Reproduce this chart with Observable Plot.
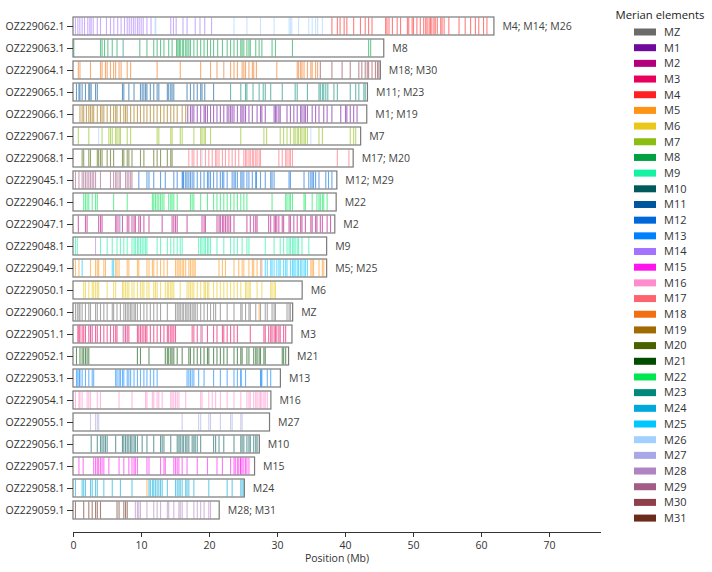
<!DOCTYPE html>
<html>
<head>
<meta charset="utf-8">
<script src="https://cdn.jsdelivr.net/npm/d3@7"></script>
<script src="https://cdn.jsdelivr.net/npm/@observablehq/plot@0.6"></script>
<style>
  body { margin: 0; background: #fff; font-family: "Open Sans", "Noto Sans", sans-serif; }
  #wrap { position: relative; width: 712px; height: 572px; }
  #chart { position: absolute; left: 0; top: 0; }
  #legend { position: absolute; left: 600px; top: 0; }
</style>
</head>
<body>
<div id="wrap"><div id="chart"></div><svg id="legend" width="112" height="572"></svg></div>
<script>
// Chromosomes, top to bottom, with their lengths (Mb) and the Merian elements they carry
const chromosomes = ["OZ229062.1","OZ229063.1","OZ229064.1","OZ229065.1","OZ229066.1","OZ229067.1","OZ229068.1","OZ229045.1","OZ229046.1","OZ229047.1","OZ229048.1","OZ229049.1","OZ229050.1","OZ229060.1","OZ229051.1","OZ229052.1","OZ229053.1","OZ229054.1","OZ229055.1","OZ229056.1","OZ229057.1","OZ229058.1","OZ229059.1"];
const lengthsMb = [61.9,45.7,45.2,43.3,43.2,42.3,41.2,38.8,38.7,38.5,37.3,37.3,33.7,32.3,32.2,31.7,30.5,29.1,28.9,27.4,26.7,25.2,21.5];
const elementLabels = ["M4; M14; M26","M8","M18; M30","M11; M23","M1; M19","M7","M17; M20","M12; M29","M22","M2","M9","M5; M25","M6","MZ","M3","M21","M13","M16","M27","M10","M15","M24","M28; M31"];

// Merian element palette
const merianElements = ["MZ","M1","M2","M3","M4","M5","M6","M7","M8","M9","M10","M11","M12","M13","M14","M15","M16","M17","M18","M19","M20","M21","M22","M23","M24","M25","M26","M27","M28","M29","M30","M31"];
const merianColours = ["#6b6b6b","#6e0a9c","#b3007a","#e8005c","#ff2121","#ff9414","#e9c81a","#8cbd12","#00a043","#14f2a2","#005a5c","#00569c","#0068d9","#0082ff","#a373ff","#ff14ee","#ff8ccc","#ff6370","#f27012","#a16a02","#4a6100","#004d00","#00e653","#00897a","#00a8db","#00c8ff","#a3d1ff","#a8a8e6","#b083c2","#a35c85","#8f3f4a","#6b2b1a"];

// BUSCO gene positions (Mb) on each chromosome, grouped by Merian element
const genesOZ229062 = {
  M14: [0.29,0.64,0.93,1.27,1.62,2.1,2.4,2.6,2.9,3.5,3.97,4.85,5.44,5.93,6.5,7.0,7.5,7.9,8.2,8.5,8.8,9.07,9.4,9.66,9.95,10.25,10.8,11.4,14.3,14.7,15.1,16.1,16.7,17.9,18.6,19.3,20.3],
  M26: [12.0,12.1,23.6,25.5,27.5,29.5,31.7,31.9,32.1,33.1,34.6,35.1,35.6,35.9,36.6],
  M4: [38.0,38.8,39.2,39.8,40.2,41.2,42.2,42.9,43.4,43.9,45.9,46.1,46.4,46.9,47.6,48.1,49.1,49.3,49.8,50.0,50.5,51.0,51.5,51.8,52.0,52.3,52.5,52.7,53.0,53.2,53.5,54.0,54.2,54.5,55.2,56.7,57.6,58.4,59.1,59.6,60.3,60.8]
};
const genesOZ229063 = {
  M8: [0.05,3.97,4.2,4.56,5.05,5.7,6.4,9.75,10.8,11.8,12.3,12.8,13.3,14.0,14.5,15.15,15.35,15.55,15.7,16.0,16.2,16.5,16.7,16.96,17.2,17.7,18.2,18.7,19.2,19.7,20.15,20.6,21.2,21.9,22.6,23.1,23.6,24.1,24.6,24.8,25.05,25.5,25.8,26.0,26.8,27.3,27.7,29.2,29.7,32.2,43.4,43.7],
  M23: [7.3]
};
const genesOZ229064 = {
  M18: [0.71,0.95,2.5,3.97,4.2,4.7,4.95,5.44,5.9,6.2,6.7,7.0,7.9,8.4,12.3,15.7,18.7,20.15,21.1,22.1,23.1,23.6,24.1,24.8,25.05,25.3,25.8,26.3,26.5,26.9,29.9,32.9,33.1,33.4,33.6,33.9,34.4,34.9,35.1,35.6,35.9],
  M30: [36.3,38.0,39.5,40.7,41.96,42.4,42.9,43.2,43.4,43.9,44.4,44.7,44.9]
};
const genesOZ229065 = {
  M11: [0.44,0.8,0.95,1.27,1.76,2.25,2.4,2.6,3.24,3.5,7.2,7.4,8.14,8.9,9.85,10.1,10.35,10.6,10.8,11.3,11.8,12.3,12.55,13.8,14.0,14.3,14.5,14.75,16.7,17.2,17.7,18.2,18.7,18.9,19.3,20.6],
  M23: [23.1,24.6,25.3,25.5,26.4,27.3,27.9,28.2,29.0,30.7,32.6,32.9,34.4,36.1,36.3,36.6,36.8,37.1,37.4,38.3,38.8,40.7,41.5,41.96,42.7,42.9]
};
const genesOZ229066 = {
  M19: [0.95,1.27,1.5,1.9,2.25,2.5,2.75,2.97,3.5,3.97,4.2,4.46,4.95,5.44,5.9,6.2,6.4,6.9,7.4,7.65,7.9,8.4,8.9,9.4,9.85,10.35,10.8,11.3,11.8,12.3,12.8,13.3,13.8,14.3,14.75,15.25,15.98,16.5],
  M1: [16.8,17.2,17.45,17.7,18.2,18.7,19.2,19.4,19.7,20.15,20.6,21.1,21.6,22.1,22.6,22.85,23.1,23.33,23.6,24.1,24.6,24.8,25.05,25.3,25.8,26.3,27.0,27.5,27.7,28.2,29.5,29.7,29.9,30.2,30.4,31.4,31.9,32.4,32.9,33.4,33.6,33.9,34.1,34.4,35.1,35.6,36.1,36.8,37.3,38.0,39.3,40.0,40.2,40.7,41.2,41.7]
};
const genesOZ229067 = {
  M7: [0.71,2.25,4.2,5.2,5.44,5.7,6.2,6.4,6.7,6.9,7.9,8.4,12.3,12.55,14.3,14.5,15.7,15.98,17.7,18.7,18.9,19.2,19.4,20.15,24.6,28.0,28.4,30.4,30.9,31.4,31.9,32.4,32.6,32.9,33.1,33.4,33.6,33.9,34.1,34.4,36.1,36.6,40.7,41.2,41.5],
  M26: [3.7,34.9]
};
const genesOZ229068 = {
  M20: [1.27,1.5,2.25,2.5,3.5,3.7,3.97,4.2,4.95,5.44,5.9,7.2,7.4,7.9,8.14,8.6,9.85,10.35,11.8,12.3,12.8,13.8,14.3,14.5],
  M17: [16.96,17.45,17.7,18.2,18.7,19.4,19.9,20.4,20.9,21.1,21.4,21.9,22.35,22.85,23.33,23.8,24.3,25.05,25.3,25.5,25.8,26.0,26.3,26.5,26.8,27.0,27.3,27.5,30.2,30.7,31.2,31.4,31.7,31.9,32.2,38.8,40.5],
  M26: [18.9]
};
const genesOZ229045 = {
  M29: [0.29,0.8,1.27,1.5,1.76,2.0,2.25,2.5,2.75,2.97,3.24,3.97,5.44,5.9,6.2,6.4,6.7,6.9,7.65,7.9,8.14,8.4,8.6],
  M12: [9.6,10.8,11.1,11.8,12.8,13.5,14.75,15.25,15.98,16.1,16.2,16.5,16.7,16.96,17.2,17.45,17.7,18.2,18.7,19.2,19.7,19.9,20.15,20.6,21.1,21.6,21.9,22.1,22.6,23.33,23.6,23.8,24.1,24.6,24.8,25.05,25.5,25.8,26.3,26.8,26.9,27.5,28.2,29.0,29.2,29.5,31.7,31.9,33.9,34.6,34.9,35.1,35.3,35.6,36.1,37.1,37.5,38.0]
};
const genesOZ229046 = {
  M22: [1.5,1.76,2.0,2.25,2.75,3.24,3.5,5.9,7.9,11.6,11.8,12.05,12.3,12.55,12.8,13.04,13.3,14.0,14.3,14.5,14.75,15.25,17.2,17.45,17.7,18.7,19.7,20.6,21.1,21.6,22.1,22.6,23.1,23.6,24.1,24.6,25.05,25.5,29.2,31.2,31.4,31.7,31.9,32.2,33.9,34.1,35.1,35.8,36.1,36.3,36.6,36.8,37.3]
};
const genesOZ229047 = {
  M2: [0.71,1.76,2.0,3.7,3.97,4.2,6.2,6.4,6.7,7.2,7.9,8.14,8.6,8.9,9.1,9.6,9.85,10.35,11.1,13.04,14.5,14.75,15.0,15.25,16.7,18.9,19.2,19.4,21.1,21.4,21.6,21.9,22.1,22.35,22.6,22.85,23.1,23.6,25.5,26.0,26.5,26.8,27.0,28.7,29.0,29.5,29.7,29.9,30.2,30.7,30.9,31.7,31.9,32.4,32.9,33.4,33.6,34.1,34.9,35.1,35.6,35.8,36.3,36.6,37.3,37.8],
  M26: [6.9]
};
const genesOZ229048 = {
  M9: [0.29,0.56,3.97,4.95,5.7,6.4,6.9,7.4,7.9,8.6,8.9,9.1,9.4,9.6,9.85,10.1,10.35,10.6,10.8,12.3,12.8,13.8,14.3,14.75,15.25,15.7,15.98,18.4,18.7,18.9,19.2,19.4,19.7,19.9,20.15,21.1,22.1,23.1,23.6,24.1,24.8,25.5,25.8,28.2,29.5,30.4,30.9,31.4,31.7,31.9,32.2,32.4,32.6,32.9,33.1,33.6,34.6],
  M28: [3.24]
};
const genesOZ229049 = {
  M5: [0.29,0.8,2.5,3.24,3.5,3.7,4.46,4.7,6.2,6.4,6.7,7.9,8.14,9.4,9.6,10.8,11.1,11.6,11.8,12.3,12.8,13.3,13.8,15.0,15.25,15.5,15.7,15.98,16.2,16.5,16.96,17.2,17.45,17.7,17.9,21.4,21.9,22.35,23.6,24.3,24.8,25.05,25.8,26.3,26.5,27.0,27.5,34.9,35.1,35.3,36.1,36.6,36.8],
  M25: [1.27,5.7,5.9,28.2,28.5,29.0,29.2,29.5,29.9,30.2,30.4,30.9,31.2,31.4,31.9,32.2,32.4,32.6,32.9,33.1,33.4,33.6,33.9,34.1,34.4],
  M28: [27.7]
};
const genesOZ229050 = {
  M6: [1.5,1.76,2.25,2.75,2.97,3.24,3.5,3.7,4.95,5.9,6.2,7.2,7.4,7.65,7.9,8.14,8.6,8.9,9.4,9.85,10.1,10.35,10.8,11.1,11.8,12.05,12.3,12.8,13.5,13.8,14.0,14.3,14.5,14.75,15.7,16.7,16.96,17.2,17.45,17.7,18.2,18.7,19.2,19.4,19.7,19.9,20.6,21.1,21.6,22.1,22.6,23.1,23.6,24.1,24.6,25.3,25.5,25.8,26.0,27.0,27.7,29.0,29.2,29.5,29.7]
};
const genesOZ229060 = {
  MZ: [0.29,0.56,0.8,0.95,1.27,1.76,2.25,2.5,3.24,3.5,3.97,4.46,4.95,5.7,5.9,6.4,6.9,7.4,7.65,7.9,8.14,8.4,8.6,8.9,9.1,9.4,9.85,10.35,10.8,11.3,11.8,12.3,12.8,13.8,15.0,15.25,15.5,15.7,15.98,16.2,16.5,16.7,16.96,17.2,17.45,17.7,17.9,18.2,18.7,19.2,19.7,20.15,20.6,20.9,21.6,22.6,23.6,24.6,24.8,25.3,25.8,26.0,26.8,27.5,28.2,28.5,29.2,29.5,29.7,31.4,31.7,31.9],
  M5: [27.3]
};
const genesOZ229051 = {
  M3: [0.64,0.8,0.95,1.27,1.5,1.76,2.25,2.75,3.24,3.5,3.97,4.46,4.95,5.44,5.9,6.2,6.4,7.4,7.65,7.9,8.14,9.4,9.6,9.85,10.1,10.35,10.6,10.8,11.3,11.8,12.3,12.8,13.3,13.8,14.0,14.3,14.5,14.75,15.0,17.45,17.7,18.2,18.9,19.7,20.6,21.1,21.9,22.1,22.6,23.1,23.6,24.1,26.0,28.0,28.2,28.7,29.0,29.2,29.5,29.7,29.9,30.2,30.4,30.9,31.2],
  M2: [2.5],
  M26: [7.2],
  M28: [18.7]
};
const genesOZ229052 = {
  M21: [0.44,0.95,1.27,1.5,1.76,2.0,2.25,9.4,9.85,11.1,13.5,13.8,14.0,14.3,14.5,14.75,15.25,15.98,16.96,17.2,17.7,18.2,18.7,19.2,19.7,19.9,20.6,21.1,21.6,22.1,22.6,23.6,24.1,24.6,24.8,25.5,25.8,26.5,26.8,27.0,27.3,27.5,28.0,28.2,30.7,30.9,31.2]
};
const genesOZ229053 = {
  M13: [0.44,0.64,0.85,0.95,1.27,1.76,2.25,2.75,2.97,6.2,6.4,6.7,6.9,7.2,7.4,7.9,8.14,8.4,8.9,9.4,9.85,10.35,10.8,11.3,11.8,12.3,16.7,16.96,17.2,17.45,17.7,18.4,19.2,20.6,21.6,22.6,23.6,24.1,24.6,24.65,25.3,27.5,27.6,27.7,28.5,29.0]
};
const genesOZ229054 = {
  M16: [0.29,0.8,0.95,1.27,2.0,2.25,2.5,3.5,3.97,6.7,8.6,10.6,10.8,11.6,11.8,12.3,12.55,13.04,14.3,14.5,14.75,15.0,15.25,15.5,16.5,18.7,18.9,19.9,20.4,20.9,21.6,22.6,23.6,24.6,25.5,25.8,26.0,26.5,26.8,27.0,27.3,27.5,27.7,28.0,28.2,28.5]
};
const genesOZ229055 = {
  M27: [2.5,3.24,3.5,3.7,15.98,18.4,18.7,19.9,20.15,21.6,23.1,23.33,24.6,24.8]
};
const genesOZ229056 = {
  M10: [2.6,3.5,3.97,4.2,4.46,4.7,4.95,6.2,7.2,7.4,7.65,7.9,8.14,8.4,8.6,8.9,9.1,9.4,10.1,10.8,11.8,12.8,13.04,13.3,14.3,15.25,15.5,15.7,15.98,16.2,16.5,16.7,16.96,17.45,17.7,17.9,18.2,18.7,20.6,20.9,21.4,22.1,23.6,24.6,24.8,25.05,25.5,25.8,26.0,26.5,26.8,27.0]
};
const genesOZ229057 = {
  M15: [0.8,1.42,2.97,3.24,3.5,3.7,3.97,4.2,4.46,5.2,6.7,7.4,8.14,8.6,8.9,9.1,9.4,10.8,11.1,12.8,13.3,13.5,14.75,15.0,15.25,15.5,15.98,16.7,18.2,19.7,21.1,21.9,23.1,23.6,23.8,24.1,24.3,24.56,24.6,24.8,25.05,25.3,25.5,25.8]
};
const genesOZ229058 = {
  M24: [0.29,1.27,1.5,1.76,2.5,2.75,3.24,3.5,4.46,5.7,6.9,8.6,11.1,11.3,11.6,11.8,12.05,12.3,12.55,12.8,13.04,13.8,15.0,15.25,15.5,15.7,15.98,16.5,16.7,16.96,17.7,19.9,22.6,23.33,24.6,24.8,25.05],
  M5: [10.8]
};
const genesOZ229059 = {
  M31: [0.29,1.5,2.25,2.75,3.24,3.5,3.97,6.4,6.7,7.4,7.65,7.9],
  M28: [9.1,9.4,9.6,9.85,10.8,11.8,12.3,12.8,13.8,14.0,14.75,15.5,15.7,15.98,16.7,17.7,18.2,18.7,19.2,19.9,20.15]
};

const genesByChromosome = [genesOZ229062,genesOZ229063,genesOZ229064,genesOZ229065,genesOZ229066,genesOZ229067,genesOZ229068,genesOZ229045,genesOZ229046,genesOZ229047,genesOZ229048,genesOZ229049,genesOZ229050,genesOZ229060,genesOZ229051,genesOZ229052,genesOZ229053,genesOZ229054,genesOZ229055,genesOZ229056,genesOZ229057,genesOZ229058,genesOZ229059];

// Tidy tables for the marks
const rows = chromosomes.map((c, i) => ({chrom: c, len: lengthsMb[i], label: elementLabels[i]}));
const genes = chromosomes.flatMap((c, i) =>
  Object.entries(genesByChromosome[i]).flatMap(([el, ps]) => ps.map(p => ({chrom: c, element: el, pos: p})))
);

const font = '"Open Sans", "Noto Sans", sans-serif';

const chart = Plot.plot({
  width: 605,
  height: 572,
  marginLeft: 73,
  marginRight: 5,
  marginTop: 6,
  marginBottom: 40,
  insetBottom: 3,
  style: {fontFamily: font, fontSize: "10.5px", color: "#333", background: "white"},
  x: {domain: [0, 77.5], ticks: [0, 10, 20, 30, 40, 50, 60, 70], label: "Position (Mb)"},
  y: {domain: chromosomes, paddingInner: 0.2, paddingOuter: 0.1, label: null},
  color: {type: "ordinal", domain: merianElements, range: merianColours},
  marks: [
    Plot.barX(rows, {x1: 0, x2: "len", y: "chrom", fill: "white"}),
    Plot.tickX(genes, {x: "pos", y: "chrom", stroke: "element", strokeOpacity: 0.58, strokeWidth: 1.1, insetTop: 0.5, insetBottom: 0.5}),
    Plot.barX(rows, {x1: 0, x2: "len", y: "chrom", fill: "none", stroke: "#7a7a7a", strokeWidth: 1.2}),
    Plot.text(rows, {x: "len", y: "chrom", text: "label", dx: 8, textAnchor: "start", fontSize: 10.5, fill: "#444"}),
    Plot.frame({anchor: "bottom", stroke: "#333"}),
    Plot.axisY({tickSize: 6, fontSize: 10.5, label: null}),
    Plot.axisX({tickSize: 5, fontSize: 10.5, label: "Position (Mb)", labelAnchor: "center", labelArrow: "none", labelOffset: 29})
  ]
});
document.getElementById("chart").append(chart);

// Legend of Merian element colours
const legend = d3.select("#legend").style("font-family", font);
legend.append("text")
  .attr("x", 60).attr("y", 19)
  .attr("text-anchor", "middle")
  .attr("font-size", 11.3).attr("fill", "#222")
  .text("Merian elements");
const item = legend.selectAll("g.item").data(merianElements).join("g")
  .attr("class", "item")
  .attr("transform", (d, i) => `translate(0,${32 + i * 15.68})`);
item.append("rect")
  .attr("x", 34).attr("y", -3.5).attr("width", 22).attr("height", 7)
  .attr("fill", (d, i) => merianColours[i]);
item.append("text")
  .attr("x", 64).attr("y", 0).attr("dy", "0.35em")
  .attr("font-size", 11).attr("fill", "#333")
  .text(d => d);
</script>
</body>
</html>
